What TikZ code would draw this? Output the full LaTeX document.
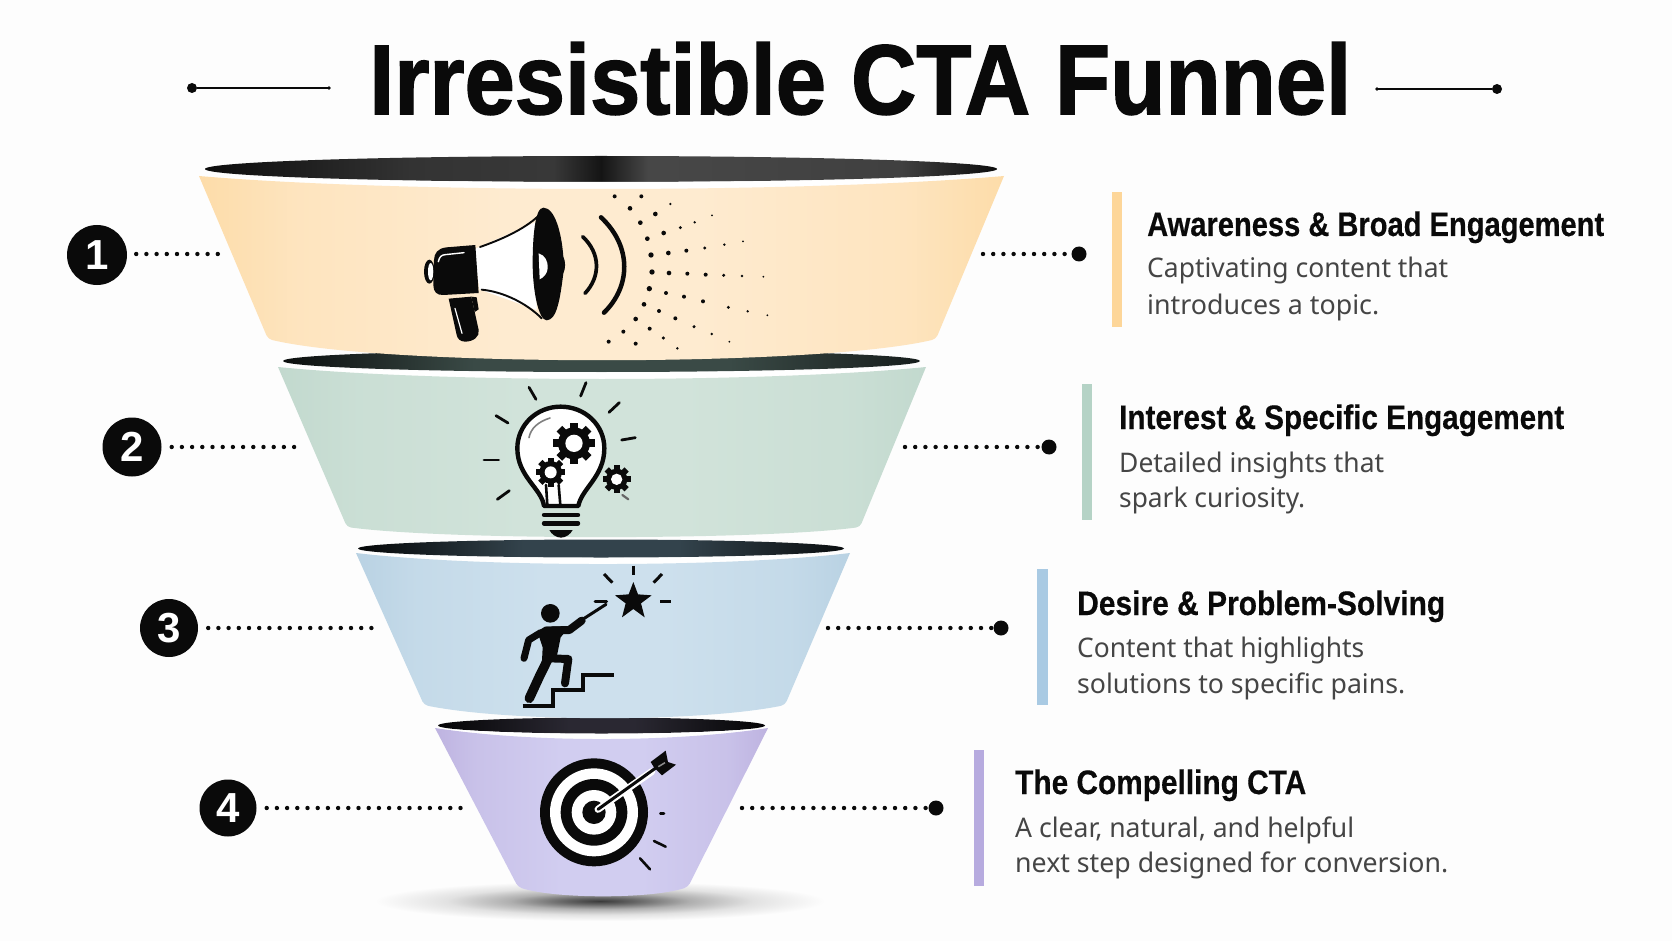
\documentclass[tikz,border=0pt]{standalone}
\usepackage{fontspec}
\usepackage{graphicx}
\setmainfont{Liberation Sans}
\newfontfamily\bodyf{Noto Sans}
\newfontfamily\titlef[FakeBold=1.6]{Liberation Sans Bold}
\newfontfamily\headf[FakeBold=0.4]{Liberation Sans Bold}
\definecolor{bg}{HTML}{FDFDFD}
\definecolor{ink}{HTML}{0A0A0A}
\definecolor{bodyc}{HTML}{454545}
\definecolor{peachE}{HTML}{FDDCA9}\definecolor{peachM}{HTML}{FEEBD0}\definecolor{peachB}{HTML}{FDD699}
\definecolor{greenE}{HTML}{C2D9CE}\definecolor{greenM}{HTML}{D1E3DA}\definecolor{greenB}{HTML}{B5D3C6}
\definecolor{blueE}{HTML}{B9D2E3}\definecolor{blueM}{HTML}{CDE0ED}\definecolor{blueB}{HTML}{A9CAE3}
\definecolor{purpE}{HTML}{BEB3E0}\definecolor{purpM}{HTML}{D1CDF0}\definecolor{purpB}{HTML}{B7ABDF}
\definecolor{shadowc}{HTML}{3A3A3A}
\newcommand\bandshade[3]{\pgfdeclarehorizontalshading{#1}{100bp}{color(0bp)=(#2); color(25bp)=(#2); color(31bp)=(#3!55!#2); color(44bp)=(#3); color(56bp)=(#3); color(69bp)=(#3!55!#2); color(75bp)=(#2); color(100bp)=(#2)}}
\bandshade{bandA}{peachE}{peachM}
\bandshade{bandB}{greenE}{greenM}
\bandshade{bandC}{blueE}{blueM}
\bandshade{bandD}{purpE}{purpM}
\pgfdeclarehorizontalshading{darkA}{100bp}{color(0bp)=(black!95); color(25bp)=(black!95); color(38bp)=(black!80); color(47bp)=(black!78); color(50bp)=(black!92); color(53bp)=(black!72); color(69bp)=(black!75); color(75bp)=(black!95); color(100bp)=(black!95)}
\definecolor{dkB}{HTML}{3A4A46}\definecolor{dkC}{HTML}{33434C}\definecolor{dkD}{HTML}{2A2832}
\pgfdeclarehorizontalshading{darkB}{100bp}{color(0bp)=(black!80!dkB); color(25bp)=(black!80!dkB); color(40bp)=(dkB); color(60bp)=(dkB); color(75bp)=(black!60!dkB); color(100bp)=(black!60!dkB)}
\pgfdeclarehorizontalshading{darkC}{100bp}{color(0bp)=(black!90!dkC); color(25bp)=(black!90!dkC); color(42bp)=(dkC); color(58bp)=(dkC); color(75bp)=(black!80!dkC); color(100bp)=(black!80!dkC)}
\pgfdeclarehorizontalshading{darkD}{100bp}{color(0bp)=(black!90!dkD); color(25bp)=(black!90!dkD); color(45bp)=(dkD); color(55bp)=(dkD); color(75bp)=(black!90!dkD); color(100bp)=(black!90!dkD)}
\pgfdeclareradialshading{softshadow}{\pgfpoint{0bp}{0bp}}{color(0bp)=(shadowc); color(4bp)=(shadowc!78!bg); color(10bp)=(shadowc!40!bg); color(17bp)=(shadowc!14!bg); color(25bp)=(bg); color(50bp)=(bg)}
\newcommand\fitto[2]{\resizebox{#1}{\height}{#2}}
\newcommand\gearicon[6]{% x y outer tooth-half-width hub hole ; fill
  \begin{scope}[shift={(#1,#2)}]
    \foreach \a in {0,45,...,135}{\fill[ink,rotate=\a] (-#4,-#3) rectangle (#4,#3);}
    \fill[ink] (0,0) circle[radius=#5];
    \fill[white] (0,0) circle[radius=#6];
  \end{scope}}
\tikzset{
  zoomed/.style 2 args={shift={(#1pt,-#2pt)},x=0.33333pt,y=-0.33333pt},
  headtext/.style={anchor=base west,inner sep=0pt,text=ink,font=\headf\fontsize{34}{34}\selectfont},
  bodytext/.style={anchor=base west,inner sep=0pt,text=bodyc,font=\bodyf\fontsize{27}{27}\selectfont},
  numdisc/.style={circle,fill=ink,draw=none,inner sep=0pt,text=white,font=\bfseries\fontsize{42}{42}\selectfont},
  enddot/.style={circle,fill=ink,draw=none,inner sep=0pt,minimum size=15pt},
  titledot/.style={circle,fill=ink,draw=none,inner sep=0pt,minimum size=10pt},
  dotline/.style={line width=4.4pt,line cap=round,dash pattern=on 0pt off 10.2pt,draw=ink},
  stroke/.style={draw=ink,line cap=round,line join=round},
}
\begin{document}
\begin{tikzpicture}[x=1pt,y=-1pt]
\useasboundingbox[fill=bg] (0,0) rectangle (1672,941);

% ---- title
\node[anchor=base west,inner sep=0pt,text=ink,font=\titlef\fontsize{99}{99}\selectfont] (title) at (369,114) {\fitto{982pt}{Irresistible CTA Funnel}};
\node[titledot] (tl1) at (192,88) {};
\coordinate (tl2) at (329,88);
\draw[ink,line width=1.8pt] (tl1) -- (tl2);
\fill[ink] (tl2) circle[radius=1.8];
\coordinate (tr1) at (1377,89);
\node[titledot] (tr2) at (1497,89) {};
\draw[ink,line width=1.8pt] (tr1) -- (tr2);
\fill[ink] (tr1) circle[radius=1.8];

% ---- floor shadow
\shade[shading=softshadow] (600,901) ellipse[x radius=225,y radius=20];

% ---- funnel 4
\shade[shading=darkD] (601.5,725.5) ellipse[x radius=163.5,y radius=8];
\fill[white] (435,728) .. controls (530,736) and (673,736) .. (768,728) -- (740,760) -- (463,760) -- cycle;
\shade[shading=bandD] (435,728) .. controls (530,742.7) and (673,742.7) .. (768,728) [rounded corners=4pt] -- (688,887) .. controls (650,899) and (556,899) .. (518,887) -- (435,728);
% ---- funnel 3
\shade[shading=darkC] (601,548.5) ellipse[x radius=243,y radius=9];
\fill[white] (356,553) .. controls (480,559.7) and (726,559.7) .. (850,553) -- (830,590) -- (376,590) -- cycle;
\shade[shading=bandC] (356,553) .. controls (480,567.7) and (726,567.7) .. (850,553) [rounded corners=4pt] -- (785,705) .. controls (700,722.3) and (509,722.3) .. (424,705) -- (356,553);
% ---- funnel 2
\shade[shading=darkB] (601.5,361) ellipse[x radius=318.5,y radius=11];
\fill[white] (278,367) .. controls (440,374.3) and (764,374.3) .. (926,367) -- (905,400) -- (299,400) -- cycle;
\shade[shading=bandB] (278,367) .. controls (440,383) and (764,383) .. (926,367) [rounded corners=4pt] -- (860,527) .. controls (760,540.3) and (447,540.3) .. (347,527) -- (278,367);
% ---- funnel 1
\shade[shading=darkA] (601,169) ellipse[x radius=396,y radius=13];
\fill[white] (199,176) .. controls (400,184) and (803,184) .. (1004,176) -- (990,210) -- (213,210) -- cycle;
\shade[shading=bandA] (199,176) .. controls (400,193.3) and (803,193.3) .. (1004,176) [rounded corners=4pt] -- (936,339) .. controls (820,367) and (384,367) .. (268,339) -- (199,176);

% ---- megaphone
\begin{scope}[zoomed={400}{190}]
  \fill[ink] (88,245) ellipse[x radius=16,y radius=36];
  \fill[white] (92,245) ellipse[x radius=8,y radius=26];
  \fill[white] (222,178) -- (410,95) -- (410,360) -- (238,298) -- cycle;
  \draw[stroke,line width=1.9pt] (240,171) .. controls (300,150) and (370,120) .. (415,78);
  \draw[stroke,line width=1.9pt] (245,299) .. controls (310,305) and (380,340) .. (425,385);
  \fill[ink] (226,165) -- (140,172) .. controls (112,175) and (103,190) .. (102,210) -- (100,285) .. controls (100,305) and (110,316) .. (130,315) -- (236,309) -- cycle;
  \fill[ink] (430,53) .. controls (465,53) and (485,130) .. (490,200) .. controls (497,215) and (497,235) .. (490,250) .. controls (480,330) and (470,390) .. (440,391) .. controls (415,390) and (398,300) .. (398,220) .. controls (398,140) and (405,53) .. (430,53) -- cycle;
  \fill[white] (416,190) .. controls (435,195) and (445,215) .. (443,235) .. controls (442,250) and (432,262) .. (419,268) -- cycle;
  \draw[white,line width=1.4pt,line cap=round] (115,215) .. controls (118,200) and (125,195) .. (135,194) -- (192,188);
  \fill[ink] (146,326) -- (214,320) -- (236,420) .. controls (240,440) and (220,455) .. (195,455) .. controls (180,455) and (172,445) .. (170,435) -- cycle;
  \fill[ink] (214,320) -- (230,322) -- (236,358) -- (224,366) -- cycle;
  \draw[white,line width=1.2pt,line cap=round] (165,355) -- (186,430);
  \draw[stroke,line width=3.7pt] (548,140) .. controls (602,190) and (602,260) .. (555,310);
  \draw[stroke,line width=4.5pt] (603,82) .. controls (697,170) and (692,290) .. (612,368);
  \foreach \px/\py/\pr in {644/19/6,724/19/6,811/42/4,690/55/7,766/72/7,936/76/3,884/97/4,721/98/7,841/113/5,791/129/7,742/146/7,1029/154/3,973/164/4,914/174/5,859/182/6,805/189/7,753/195/8,756/246/8,807/249/7,862/251/6,917/254/6,971/256/5,1026/258/4,1090/260/3,748/296/8,798/309/6,852/320/6,909/334/6,985/352/5,1043/364/4,1102/376/3,732/343/7,777/363/6,707/387/7,826/385/6,882/410/5,935/432/4,670/425/6,749/416/6,790/444/5,988/455/3,626/455/6,707/461/6,832/475/4}
    {\fill[ink] (\px,\py) circle[radius=\pr];}
\end{scope}

% ---- light bulb
\begin{scope}[zoomed={460}{370}]
  \draw[stroke,line width=4.4pt,fill=white] (252,408) .. controls (245,355) and (172,320) .. (172,235) .. controls (172,165) and (230,110) .. (302,110) .. controls (375,110) and (433,165) .. (433,235) .. controls (433,320) and (365,355) .. (355,408) -- cycle;
  \gearicon{342}{220}{62}{12}{48}{26}
  \gearicon{272}{307}{44}{9}{34}{18}
  \gearicon{470}{328}{42}{9}{32}{17}
  \draw[stroke,line width=2.6pt] (296,345) -- (301,405);
  \draw[stroke,line width=2.6pt] (258,345) -- (262,405);
  \draw[gray,line width=1.6pt,line cap=round] (207,203) .. controls (212,175) and (235,155) .. (270,144);
  \draw[stroke,line width=4.4pt] (252,435) -- (354,435);
  \draw[stroke,line width=4.4pt] (252,460) -- (354,460);
  \fill[ink] (268,480) -- (338,480) .. controls (332,492) and (318,503) .. (303,503) .. controls (288,503) and (274,492) .. (268,480) -- cycle;
  \foreach \ax/\ay/\bx/\by in {207/52/228/88,378/38/362/78,478/98/447/127,485/210/526/203,108/137/144/159,72/270/116/270,112/388/148/362}
    {\draw[stroke,line width=2.8pt] (\ax,\ay) -- (\bx,\by);}
  \draw[black!60,line width=2.2pt,line cap=round] (487,375) -- (505,388);
\end{scope}

% ---- climber and star
\begin{scope}[zoomed={500}{560}]
  \fill[ink] (151,160) circle[radius=28];
  \fill[ink] (112,214) -- (135,200) -- (210,198) -- (182,232) -- (170,292) -- (125,322) -- (128,262) -- cycle;
  \draw[stroke,line width=7pt] (122,218) -- (86,240) -- (72,295);
  \draw[stroke,line width=8pt] (140,212) -- (208,210) -- (245,182);
  \draw[stroke,line width=3pt] (245,180) -- (318,133);
  \draw[stroke,line width=3pt] (285,125) -- (320,125);
  \draw[stroke,line width=8pt] (150,295) -- (205,297) -- (195,370);
  \draw[stroke,line width=9.5pt] (145,295) -- (118,350) -- (88,415);
  \draw[draw=ink,line width=3.8pt,line join=miter] (68,438) -- (158,438) -- (158,390) -- (250,390) -- (250,345) -- (343,345);
  \fill[ink] (400,66) -- (414,103) -- (455,106) -- (423,130) -- (434,172) -- (400,147) -- (366,172) -- (377,130) -- (345,106) -- (386,103) -- cycle;
  \foreach \ax/\ay/\bx/\by in {400/17/400/45,312/42/337/68,486/42/461/68,480/125/514/125}
    {\draw[draw=ink,line width=3pt] (\ax,\ay) -- (\bx,\by);}
\end{scope}

% ---- target
\begin{scope}[zoomed={400}{710}]
  \fill[ink] (582,307) circle[radius=162];
  \fill[white] (582,307) circle[radius=132];
  \fill[ink] (582,307) circle[radius=100];
  \fill[white] (582,307) circle[radius=67];
  \fill[ink] (582,307) circle[radius=35];
  \draw[white,line width=7pt,line cap=round] (594,298) -- (755,185);
  \draw[ink,line width=3pt,line cap=round] (594,298) -- (770,172);
  \fill[ink] (797,122) -- (804,156) -- (828,164) -- (786,196) -- (762,172) -- (752,156) -- cycle;
  \draw[black!45,line width=1.5pt] (775,170) -- (795,158);
  \draw[stroke,line width=2.6pt] (781,310) -- (792,310);
  \draw[stroke,line width=2.6pt] (762,393) -- (797,410);
  \draw[stroke,line width=2.6pt] (720,445) -- (750,478);
\end{scope}

% ---- number discs and left connectors
\node[numdisc,minimum size=60pt] (n1) at (97,255) {1};
\node[numdisc,minimum size=59pt] (n2) at (132,447) {2};
\node[numdisc,minimum size=58pt] (n3) at (169,628) {3};
\node[numdisc,minimum size=57pt] (n4) at (228,808) {4};
\coordinate (l1) at (222,254);
\coordinate (l2) at (301,447);
\coordinate (l3) at (380,628);
\coordinate (l4) at (466,808);
\draw[dotline] ([xshift=9pt]n1.east|-l1) -- (l1);
\draw[dotline] ([xshift=10pt]n2.east) -- (l2);
\draw[dotline] ([xshift=10pt]n3.east) -- (l3);
\draw[dotline] ([xshift=10pt]n4.east) -- (l4);

% ---- right connectors
\node[enddot] (d1) at (1079,254) {};
\node[enddot] (d2) at (1049,447) {};
\node[enddot] (d3) at (1001,628) {};
\node[enddot] (d4) at (936,808) {};
\coordinate (r1) at (983,254);
\coordinate (r2) at (905,447);
\coordinate (r3) at (828,628);
\coordinate (r4) at (742,808);
\draw[dotline] (r1) -- (d1);
\draw[dotline] (r2) -- (d2);
\draw[dotline] (r3) -- (d3);
\draw[dotline] (r4) -- (d4);

% ---- accent bars
\fill[peachB] (1112,192) rectangle (1122,327);
\fill[greenB] (1082,384) rectangle (1092,520);
\fill[blueB] (1037,569) rectangle (1048,705);
\fill[purpB] (974,750) rectangle (984,886);

% ---- texts
\node[headtext] (h1) at (1147,236) {\fitto{457pt}{Awareness \& Broad Engagement}};
\node[bodytext] (b1a) at (1147,278) {\fitto{301pt}{Captivating content that}};
\node[bodytext] (b1b) at (1147,314) {\fitto{232pt}{introduces a topic.}};
\node[headtext] (h2) at (1119,429) {\fitto{445pt}{Interest \& Specific Engagement}};
\node[bodytext] (b2a) at (1119,472) {\fitto{265pt}{Detailed insights that}};
\node[bodytext] (b2b) at (1119,507) {\fitto{186pt}{spark curiosity.}};
\node[headtext] (h3) at (1077,615) {\fitto{368pt}{Desire \& Problem-Solving}};
\node[bodytext] (b3a) at (1077,657) {\fitto{287pt}{Content that highlights}};
\node[bodytext] (b3b) at (1077,693) {\fitto{328pt}{solutions to specific pains.}};
\node[headtext] (h4) at (1015,794) {\fitto{291pt}{The Compelling CTA}};
\node[bodytext] (b4a) at (1015,837) {\fitto{339pt}{A clear, natural, and helpful}};
\node[bodytext] (b4b) at (1015,872) {\fitto{433pt}{next step designed for conversion.}};
\end{tikzpicture}
\end{document}
